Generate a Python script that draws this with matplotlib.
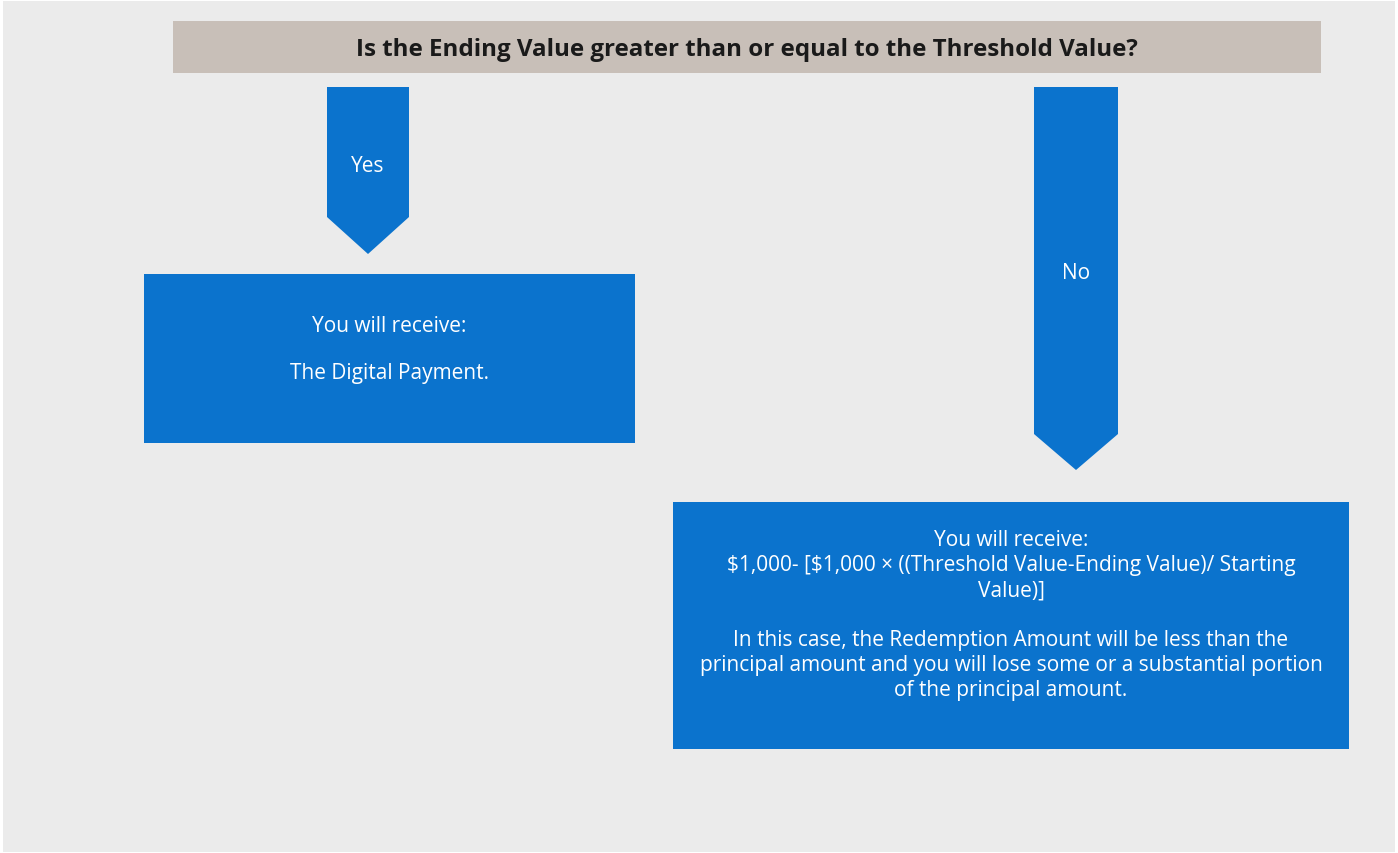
import matplotlib.pyplot as plt
from matplotlib.patches import Rectangle, Polygon

W, H = 1398, 854
BG = "#EBEBEB"
BLUE = "#0B73CD"
HEADER = "#C8BFB8"
FONT = ["Open Sans", "DejaVu Sans"]
plt.rcParams["text.parse_math"] = False

question = "Is the Ending Value greater than or equal to the Threshold Value?"
branch_labels = ["Yes", "No"]
yes_lines = ["You will receive:", "", "The Digital Payment."]
no_lines = [
    "You will receive:",
    "$1,000- [$1,000 \u00d7 ((Threshold Value-Ending Value)/ Starting",
    "Value)]",
    "",
    "In this case, the Redemption Amount will be less than the",
    "principal amount and you will lose some or a substantial portion",
    "of the principal amount.",
]


def down_arrow(ax, x0, x1, top, shoulder, tip):
    xm = (x0 + x1) / 2
    pts = [(x0, top), (x1, top), (x1, shoulder), (xm, tip), (x0, shoulder)]
    ax.add_patch(Polygon(pts, closed=True, facecolor=BLUE, edgecolor="none"))


def text_block(ax, lines, xc, y0, step, size):
    for i, line in enumerate(lines):
        if line:
            ax.text(xc, y0 + i * step, line, ha="center", va="center",
                    color="white", fontsize=size, family=FONT)


fig = plt.figure(figsize=(W / 100, H / 100), dpi=100)
fig.patch.set_facecolor("white")
ax = fig.add_axes([0, 0, 1, 1])
ax.set_xlim(0, W)
ax.set_ylim(H, 0)
ax.axis("off")

# grey canvas
ax.add_patch(Rectangle((3, 2), W - 6, H - 3, facecolor=BG, edgecolor="none"))

# question banner
ax.add_patch(Rectangle((173, 22), 1148, 52, facecolor=HEADER, edgecolor="none"))
ax.text(747, 50, question, ha="center", va="center", fontsize=17.4,
        fontweight="bold", color="#1A1A1A", family=FONT)

# branch arrows
down_arrow(ax, 327, 409, 88, 218, 255)
down_arrow(ax, 1034, 1118, 88, 435, 471)
ax.text(368, 166, branch_labels[0], ha="center", va="center", color="white",
        fontsize=15, family=FONT)
ax.text(1076, 274, branch_labels[1], ha="center", va="center", color="white",
        fontsize=15, family=FONT)

# outcome boxes
ax.add_patch(Rectangle((144, 275), 491, 169, facecolor=BLUE, edgecolor="none"))
text_block(ax, yes_lines, 389, 327, 23.5, 15)

ax.add_patch(Rectangle((673, 503), 676, 247, facecolor=BLUE, edgecolor="none"))
text_block(ax, no_lines, 1011, 541, 25, 15)

fig.savefig("out.png", dpi=100, facecolor=fig.get_facecolor())
